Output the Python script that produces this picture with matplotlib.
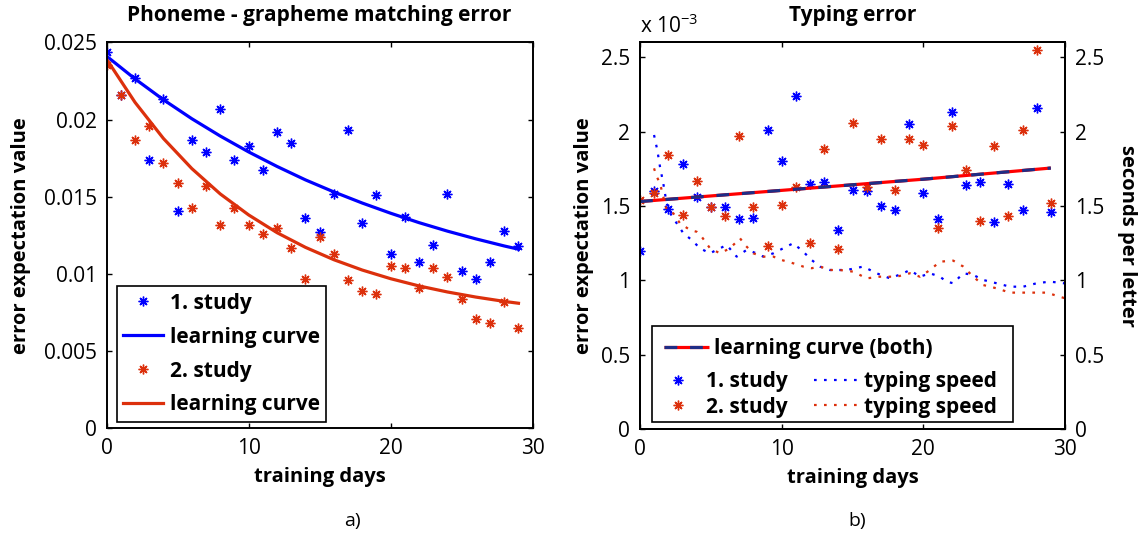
import matplotlib
matplotlib.use('Agg')
import matplotlib.pyplot as plt
from matplotlib.patches import Rectangle

plt.rcParams['font.family'] = ['Open Sans', 'DejaVu Sans']

days = list(range(30))

# a) phoneme - grapheme matching error
study1_err = [0.0244, 0.0216, 0.0227, 0.0174, 0.0213, 0.0141, 0.0187, 0.0179, 0.0207, 0.0174,
              0.0183, 0.0167, 0.0192, 0.0185, 0.0136, 0.0127, 0.0152, 0.0193, 0.0133, 0.0151,
              0.0113, 0.0137, 0.0108, 0.0119, 0.0152, 0.0102, 0.0097, 0.0108, 0.0128, 0.0118]
study2_err = [0.0235, 0.0216, 0.0187, 0.0196, 0.0172, 0.0159, 0.0143, 0.0157, 0.0132, 0.0143,
              0.0132, 0.0126, 0.0130, 0.0117, 0.0097, 0.0124, 0.0113, 0.0096, 0.0089, 0.0087,
              0.0105, 0.0104, 0.0091, 0.0104, 0.0098, 0.0084, 0.0071, 0.0068, 0.0082, 0.0065]
curve_days = [0, 2, 4, 6, 8, 10, 12, 14, 16, 18, 20, 22, 24, 26, 28, 29]
curve1 = [0.0241, 0.02263, 0.02128, 0.02005, 0.01893, 0.01790, 0.01696, 0.01609,
          0.01531, 0.01459, 0.01393, 0.01332, 0.01277, 0.01227, 0.01181, 0.0116]
curve2 = [0.0239, 0.02111, 0.01877, 0.01682, 0.01518, 0.01382, 0.01267, 0.01172,
          0.01092, 0.01025, 0.00969, 0.00922, 0.00883, 0.0085, 0.00822, 0.0081]

# b) typing error (x 10^-3)
typing1_err = [1.20, 1.60, 1.48, 1.78, 1.56, 1.49, 1.49, 1.41, 1.42, 2.01,
               1.80, 2.24, 1.65, 1.66, 1.34, 1.61, 1.60, 1.50, 1.47, 2.05,
               1.59, 1.41, 2.13, 1.64, 1.66, 1.39, 1.65, 1.47, 2.16, 1.46]
typing2_err = [1.54, 1.59, 1.84, 1.44, 1.67, 1.49, 1.43, 1.97, 1.49, 1.23,
               1.51, 1.63, 1.25, 1.88, 1.21, 2.06, 1.63, 1.95, 1.61, 1.95,
               1.91, 1.35, 2.04, 1.74, 1.40, 1.90, 1.43, 2.01, 2.55, 1.52]
both_days = [0, 10, 20, 29]
both_curve = [1.53, 1.605, 1.68, 1.755]

# typing speed (seconds per letter)
speed1_days = [0.99, 1.22, 1.41, 1.64, 1.88, 2.12, 2.59, 3.06, 3.65, 4.23, 4.94, 5.41, 6.12,
               6.82, 7.53, 8.24, 8.70, 9.41, 10.11, 10.82, 11.52, 12.12, 12.70, 13.41, 14.59,
               15.76, 16.70, 17.64, 18.58, 19.05, 19.76, 20.47, 21.17, 21.64, 22.11, 22.82,
               23.52, 24.23, 25.17, 26.11, 27.05, 28.0, 28.93, 30.0]
speed1 = [1.977, 1.876, 1.764, 1.653, 1.518, 1.453, 1.384, 1.317, 1.272, 1.216, 1.182, 1.205,
          1.238, 1.160, 1.205, 1.182, 1.160, 1.182, 1.216, 1.25, 1.193, 1.137, 1.093, 1.07,
          1.07, 1.093, 1.048, 1.014, 1.048, 1.07, 1.025, 1.048, 1.025, 0.992, 0.981, 1.048,
          1.037, 1.003, 0.981, 0.958, 0.958, 0.981, 0.992, 0.98]
speed2_days = [0.99, 1.18, 1.41, 1.64, 1.88, 2.35, 2.82, 3.53, 4.0, 4.35, 4.94, 5.65, 6.35,
               7.06, 7.41, 8.0, 8.70, 9.41, 10.0, 10.82, 11.52, 12.12, 12.70, 13.41, 14.12,
               15.05, 16.0, 16.94, 18.12, 19.05, 19.76, 20.47, 21.17, 22.11, 22.82, 23.52,
               24.23, 25.17, 26.11, 27.05, 28.0, 28.7, 30.0]
speed2 = [1.753, 1.697, 1.653, 1.563, 1.473, 1.451, 1.384, 1.339, 1.327, 1.294, 1.216, 1.182,
          1.216, 1.283, 1.238, 1.182, 1.160, 1.16, 1.137, 1.115, 1.093, 1.082, 1.093, 1.07,
          1.07, 1.059, 1.014, 1.025, 1.025, 1.048, 1.025, 1.07, 1.126, 1.133, 1.093, 1.025,
          0.969, 0.947, 0.918, 0.918, 0.918, 0.918, 0.88]

BLUE = '#0000ff'
RED = '#dc300c'
NAVY = '#1f2d86'
star = (8, 2, 0)
leg_font = {'weight': 'bold', 'size': 15}


def style_axes(ax):
    for s in ax.spines.values():
        s.set_linewidth(1.4)
    ax.tick_params(direction='in', length=3.5, width=1, labelsize=15, top=True, pad=7)


fig = plt.figure(figsize=(11.48, 5.37), dpi=100)

# ---- a) ----
ax1 = fig.add_axes([0.0929, 0.2024, 0.3711, 0.7188])
p1, = ax1.plot(days, study1_err, linestyle='none', marker=star, ms=7, mew=1, color=BLUE)
l1, = ax1.plot(curve_days, curve1, color=BLUE, lw=2.3)
p2, = ax1.plot(days, study2_err, linestyle='none', marker=star, ms=7, mew=1, color=RED)
l2, = ax1.plot(curve_days, curve2, color=RED, lw=2.3)
ax1.set_xlim(0, 30)
ax1.set_ylim(0, 0.025)
ax1.set_xticks([0, 10, 20, 30])
ax1.set_yticks([0, 0.005, 0.01, 0.015, 0.02, 0.025])
ax1.set_yticklabels(['0', '0.005', '0.01', '0.015', '0.02', '0.025'])
style_axes(ax1)
ax1.tick_params(right=True)
ax1.set_xlabel('training days', fontsize=14.5, fontweight='bold', labelpad=6)
ax1.set_ylabel('error expectation value', fontsize=14.5, fontweight='bold', labelpad=9)
ax1.set_title('Phoneme - grapheme matching error', fontsize=15, fontweight='bold', pad=15)
leg = ax1.legend([p1, l1, p2, l2], ['1. study', 'learning curve', '2. study', 'learning curve'],
                 loc='lower left', bbox_to_anchor=(0.024, 0.017), borderaxespad=0,
                 prop=leg_font, fancybox=False, edgecolor='black', framealpha=1,
                 handlelength=1.9, handletextpad=0.35, labelspacing=0.62, borderpad=0.3)
leg.get_frame().set_linewidth(1.2)

# ---- b) ----
ax = fig.add_axes([0.5575, 0.2006, 0.3702, 0.7207])
ax2 = ax.twinx()
q1, = ax.plot(days, typing1_err, linestyle='none', marker=star, ms=7, mew=1, color=BLUE)
q2, = ax.plot(days, typing2_err, linestyle='none', marker=star, ms=7, mew=1, color=RED)
lc_red, = ax.plot(both_days, both_curve, color='red', lw=2.3, solid_capstyle='butt')
lc_dash, = ax.plot(both_days, both_curve, color=NAVY, lw=2.3, dashes=(4, 4))
dots = (0, (1.2, 3.3))
t1, = ax2.plot(speed1_days, speed1, color=BLUE, lw=1.6, linestyle=dots)
t2, = ax2.plot(speed2_days, speed2, color=RED, lw=1.6, linestyle=dots)

ax.set_xlim(0, 30)
ax.set_ylim(0, 2.6)
ax2.set_ylim(0, 2.6)
ax.set_xticks([0, 10, 20, 30])
ticks = [0, 0.5, 1, 1.5, 2, 2.5]
tick_labels = ['0', '0.5', '1', '1.5', '2', '2.5']
ax.set_yticks(ticks)
ax.set_yticklabels(tick_labels)
ax2.set_yticks(ticks)
ax2.set_yticklabels(tick_labels)
style_axes(ax)
style_axes(ax2)
ax.text(0, 1.01, 'x $\\mathregular{10^{-3}}$', transform=ax.transAxes, fontsize=15,
        ha='left', va='bottom')
ax.set_xlabel('training days', fontsize=14.5, fontweight='bold', labelpad=6)
ax.set_ylabel('error expectation value', fontsize=14.5, fontweight='bold', labelpad=5)
ax2.set_ylabel('seconds per letter', fontsize=14.5, fontweight='bold', rotation=270, labelpad=24)
ax.set_title('Typing error', fontsize=15, fontweight='bold', pad=15)

ax2.add_patch(Rectangle((0.0275, 0.0196), 0.8505, 0.2474, transform=ax2.transAxes,
                        facecolor='white', edgecolor='black', lw=1.2, zorder=4))
lg1 = ax2.legend([(lc_red, lc_dash)], ['learning curve (both)'], loc='upper left',
                 bbox_to_anchor=(0.0275, 0.267), borderaxespad=0, frameon=False, prop=leg_font,
                 handlelength=2.15, handletextpad=0.25, borderpad=0.6)
lg1.set_zorder(5)
ax2.add_artist(lg1)
lg2 = ax2.legend([q1, q2, t1, t2], ['1. study', '2. study', 'typing speed', 'typing speed'],
                 ncol=2, loc='lower left', bbox_to_anchor=(0.0275, 0.0196), borderaxespad=0,
                 frameon=False, prop=leg_font, handlelength=2.15, handletextpad=0.25,
                 labelspacing=0.2, columnspacing=1.25, borderpad=0.2)
lg2.set_zorder(5)

fig.text(0.307, 0.02, 'a)', fontsize=14, ha='center')
fig.text(0.747, 0.02, 'b)', fontsize=14, ha='center')

fig.savefig('out.png', dpi=100)
